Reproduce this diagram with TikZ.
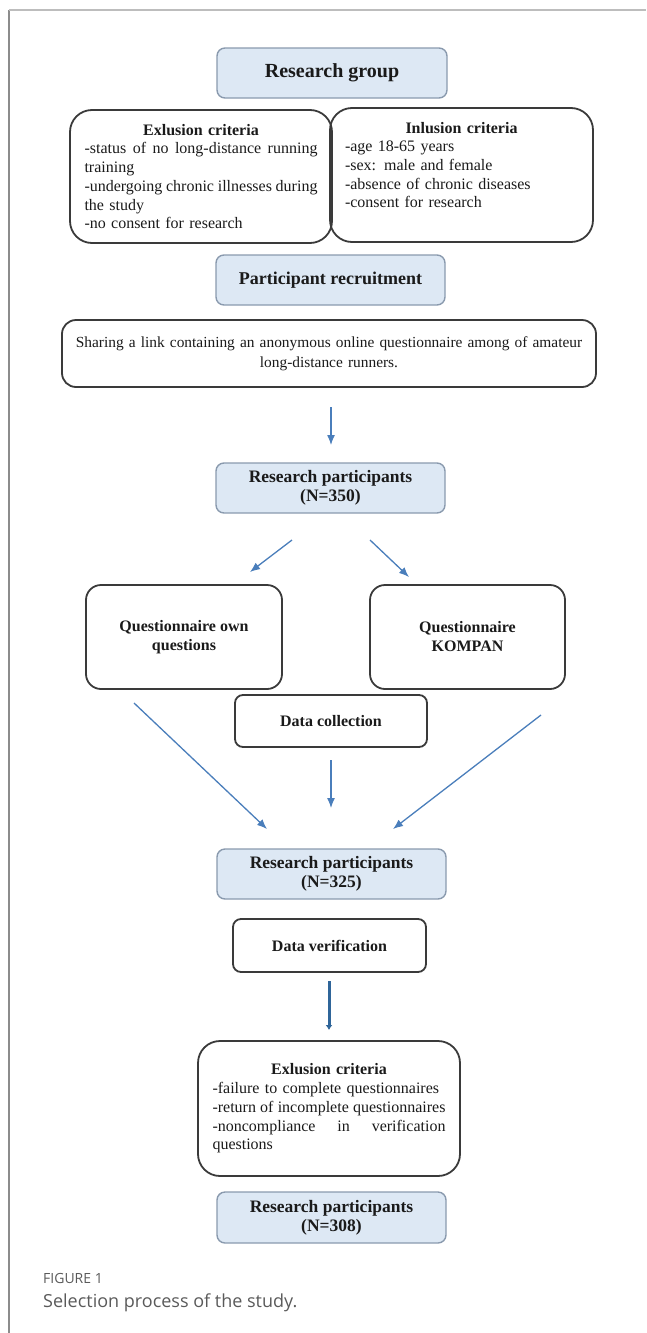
\documentclass[tikz,border=0pt]{standalone}
\usepackage{fontspec}
\setmainfont{Liberation Serif}
\newfontfamily\capfont{Open Sans}
\usetikzlibrary{arrows.meta}
\definecolor{bfill}{HTML}{DDE8F4}
\definecolor{bdraw}{HTML}{8A9AAE}
\definecolor{wdraw}{HTML}{3A3A3A}
\definecolor{arr}{HTML}{4A7EBB}
\definecolor{arrdark}{HTML}{2F6599}
\definecolor{txt}{HTML}{1A1A1A}
\definecolor{capgray}{HTML}{5A5A5A}
\definecolor{frameL}{HTML}{8C8C8C}
\definecolor{frameT}{HTML}{BDBDBD}
\newcommand{\jline}[1]{\leavevmode\hbox to 233pt{#1}}
\tikzset{
 bluebox/.style={draw=bdraw, fill=bfill, line width=1.4pt, rounded corners=8pt, inner sep=0pt, align=center, text=txt},
 whitebox/.style={draw=wdraw, line width=1.8pt, inner sep=0pt, text=txt},
 thinarrow/.style={draw=arr, line width=1.3pt, -{Latex[length=10pt,width=8pt]}},
 thickarrow/.style={draw=arrdark, line width=3pt, -{Latex[length=5pt,width=7pt]}},
 captext/.style={anchor=base west, inner sep=0pt, text=capgray},
}
\begin{document}
\begin{tikzpicture}[x=1pt,y=-1pt]
\useasboundingbox (0,0) rectangle (646,1333);
% frame
\draw[frameL, line width=1.5pt] (9,1333) -- (9,10);
\draw[frameT, line width=2pt] (9,10) -- (646,10);

\node[bluebox, minimum width=230pt, minimum height=50pt, font=\fontsize{20}{22}\selectfont\bfseries] (rg) at (332,73) {Research group};

\node[whitebox, rounded corners=22pt, minimum width=262pt, minimum height=133pt, text width=233pt, align=left, font=\fontsize{16}{18.7}\selectfont] (excl) at (201,176.5)
 {\makebox[233pt]{\bfseries Exlusion criteria}\\
  \jline{-status\hfill of\hfill no\hfill long-distance\hfill running}\\
  training\\
  \jline{-undergoing\hfill chronic\hfill illnesses\hfill during}\\
  the study\\
  -no consent for research};

\node[whitebox, rounded corners=22pt, minimum width=263pt, minimum height=134pt, text width=233pt, align=left, font=\fontsize{16}{18.7}\selectfont] (incl) at (461.5,175)
 {\makebox[233pt]{\bfseries Inlusion criteria}\\
  -age 18-65 years\\
  -sex: male and female\\
  -absence of chronic diseases\\
  -consent for research\rule[-20pt]{0pt}{20pt}};

\node[bluebox, minimum width=229pt, minimum height=50pt, font=\fontsize{18}{20}\selectfont\bfseries] (pr) at (330.5,280) {Participant recruitment};

\node[whitebox, rounded corners=14pt, minimum width=534pt, minimum height=67pt, text width=525pt, align=center, font=\fontsize{15.4}{20}\selectfont] (share) at (329,353.5)
 {Sharing a link containing an anonymous online questionnaire among of amateur\\ long-distance runners.};

\node[bluebox, minimum width=229pt, minimum height=50pt, font=\fontsize{17.5}{19}\selectfont\bfseries] (rp1) at (330.5,488) {Research participants\\ (N=350)};

\node[whitebox, rounded corners=15pt, minimum width=196pt, minimum height=104pt, align=center, font=\fontsize{16}{19}\selectfont\bfseries] (qown) at (184,637) {Questionnaire own\\ questions};

\node[whitebox, rounded corners=15pt, minimum width=195pt, minimum height=104pt, align=center, font=\fontsize{16}{19}\selectfont\bfseries] (qkom) at (467.5,637) {Questionnaire\\ KOMPAN};

\node[whitebox, rounded corners=8pt, minimum width=192pt, minimum height=52pt, font=\fontsize{16}{19}\selectfont\bfseries] (dc) at (331,721) {Data collection};

\node[bluebox, minimum width=229pt, minimum height=50pt, font=\fontsize{17.5}{19}\selectfont\bfseries] (rp2) at (331.5,874) {Research participants\\ (N=325)};

\node[whitebox, rounded corners=8pt, minimum width=193pt, minimum height=53pt, font=\fontsize{16}{19}\selectfont\bfseries] (dv) at (329.5,945.5) {Data verification};

\node[whitebox, rounded corners=22pt, minimum width=262pt, minimum height=135pt, text width=233pt, align=left, font=\fontsize{16}{18.7}\selectfont] (excl2) at (329,1108.5)
 {\makebox[233pt]{\bfseries Exlusion criteria}\\
  -failure to complete questionnaires\\
  \jline{-return\hfill of\hfill incomplete\hfill questionnaires}\\
  \jline{-noncompliance\hfill in\hfill verification}\\
  questions};

\node[bluebox, minimum width=229pt, minimum height=51pt, font=\fontsize{17.5}{19}\selectfont\bfseries] (rp3) at (331.5,1217.5) {Research participants\\ (N=308)};

% arrow end points
\coordinate (a1s) at (331,407);  \coordinate (a1e) at (331,445);
\coordinate (a2s) at (292,540);  \coordinate (a2e) at (250,572);
\coordinate (a3s) at (370,540);  \coordinate (a3e) at (409,577);
\coordinate (a4s) at (134,703);  \coordinate (a4e) at (267,829);
\coordinate (a5s) at (331,760);  \coordinate (a5e) at (331,808);
\coordinate (a6s) at (541,715);  \coordinate (a6e) at (393,829);
\coordinate (a7s) at (329,981);  \coordinate (a7e) at (329,1030);

\draw[thinarrow] (a1s) -- (a1e);
\draw[thinarrow] (a2s) -- (a2e);
\draw[thinarrow] (a3s) -- (a3e);
\draw[thinarrow] (a4s) -- (a4e);
\draw[thinarrow] (a5s) -- (a5e);
\draw[thinarrow] (a6s) -- (a6e);
\draw[thickarrow] (a7s) -- (a7e);

\node[captext, font=\capfont\fontsize{14}{16}\selectfont] (figlabel) at (43,1283) {FIGURE 1};
\node[captext, font=\capfont\fontsize{18}{20}\selectfont] (figcap) at (43,1307) {Selection process of the study.};
\end{tikzpicture}
\end{document}
